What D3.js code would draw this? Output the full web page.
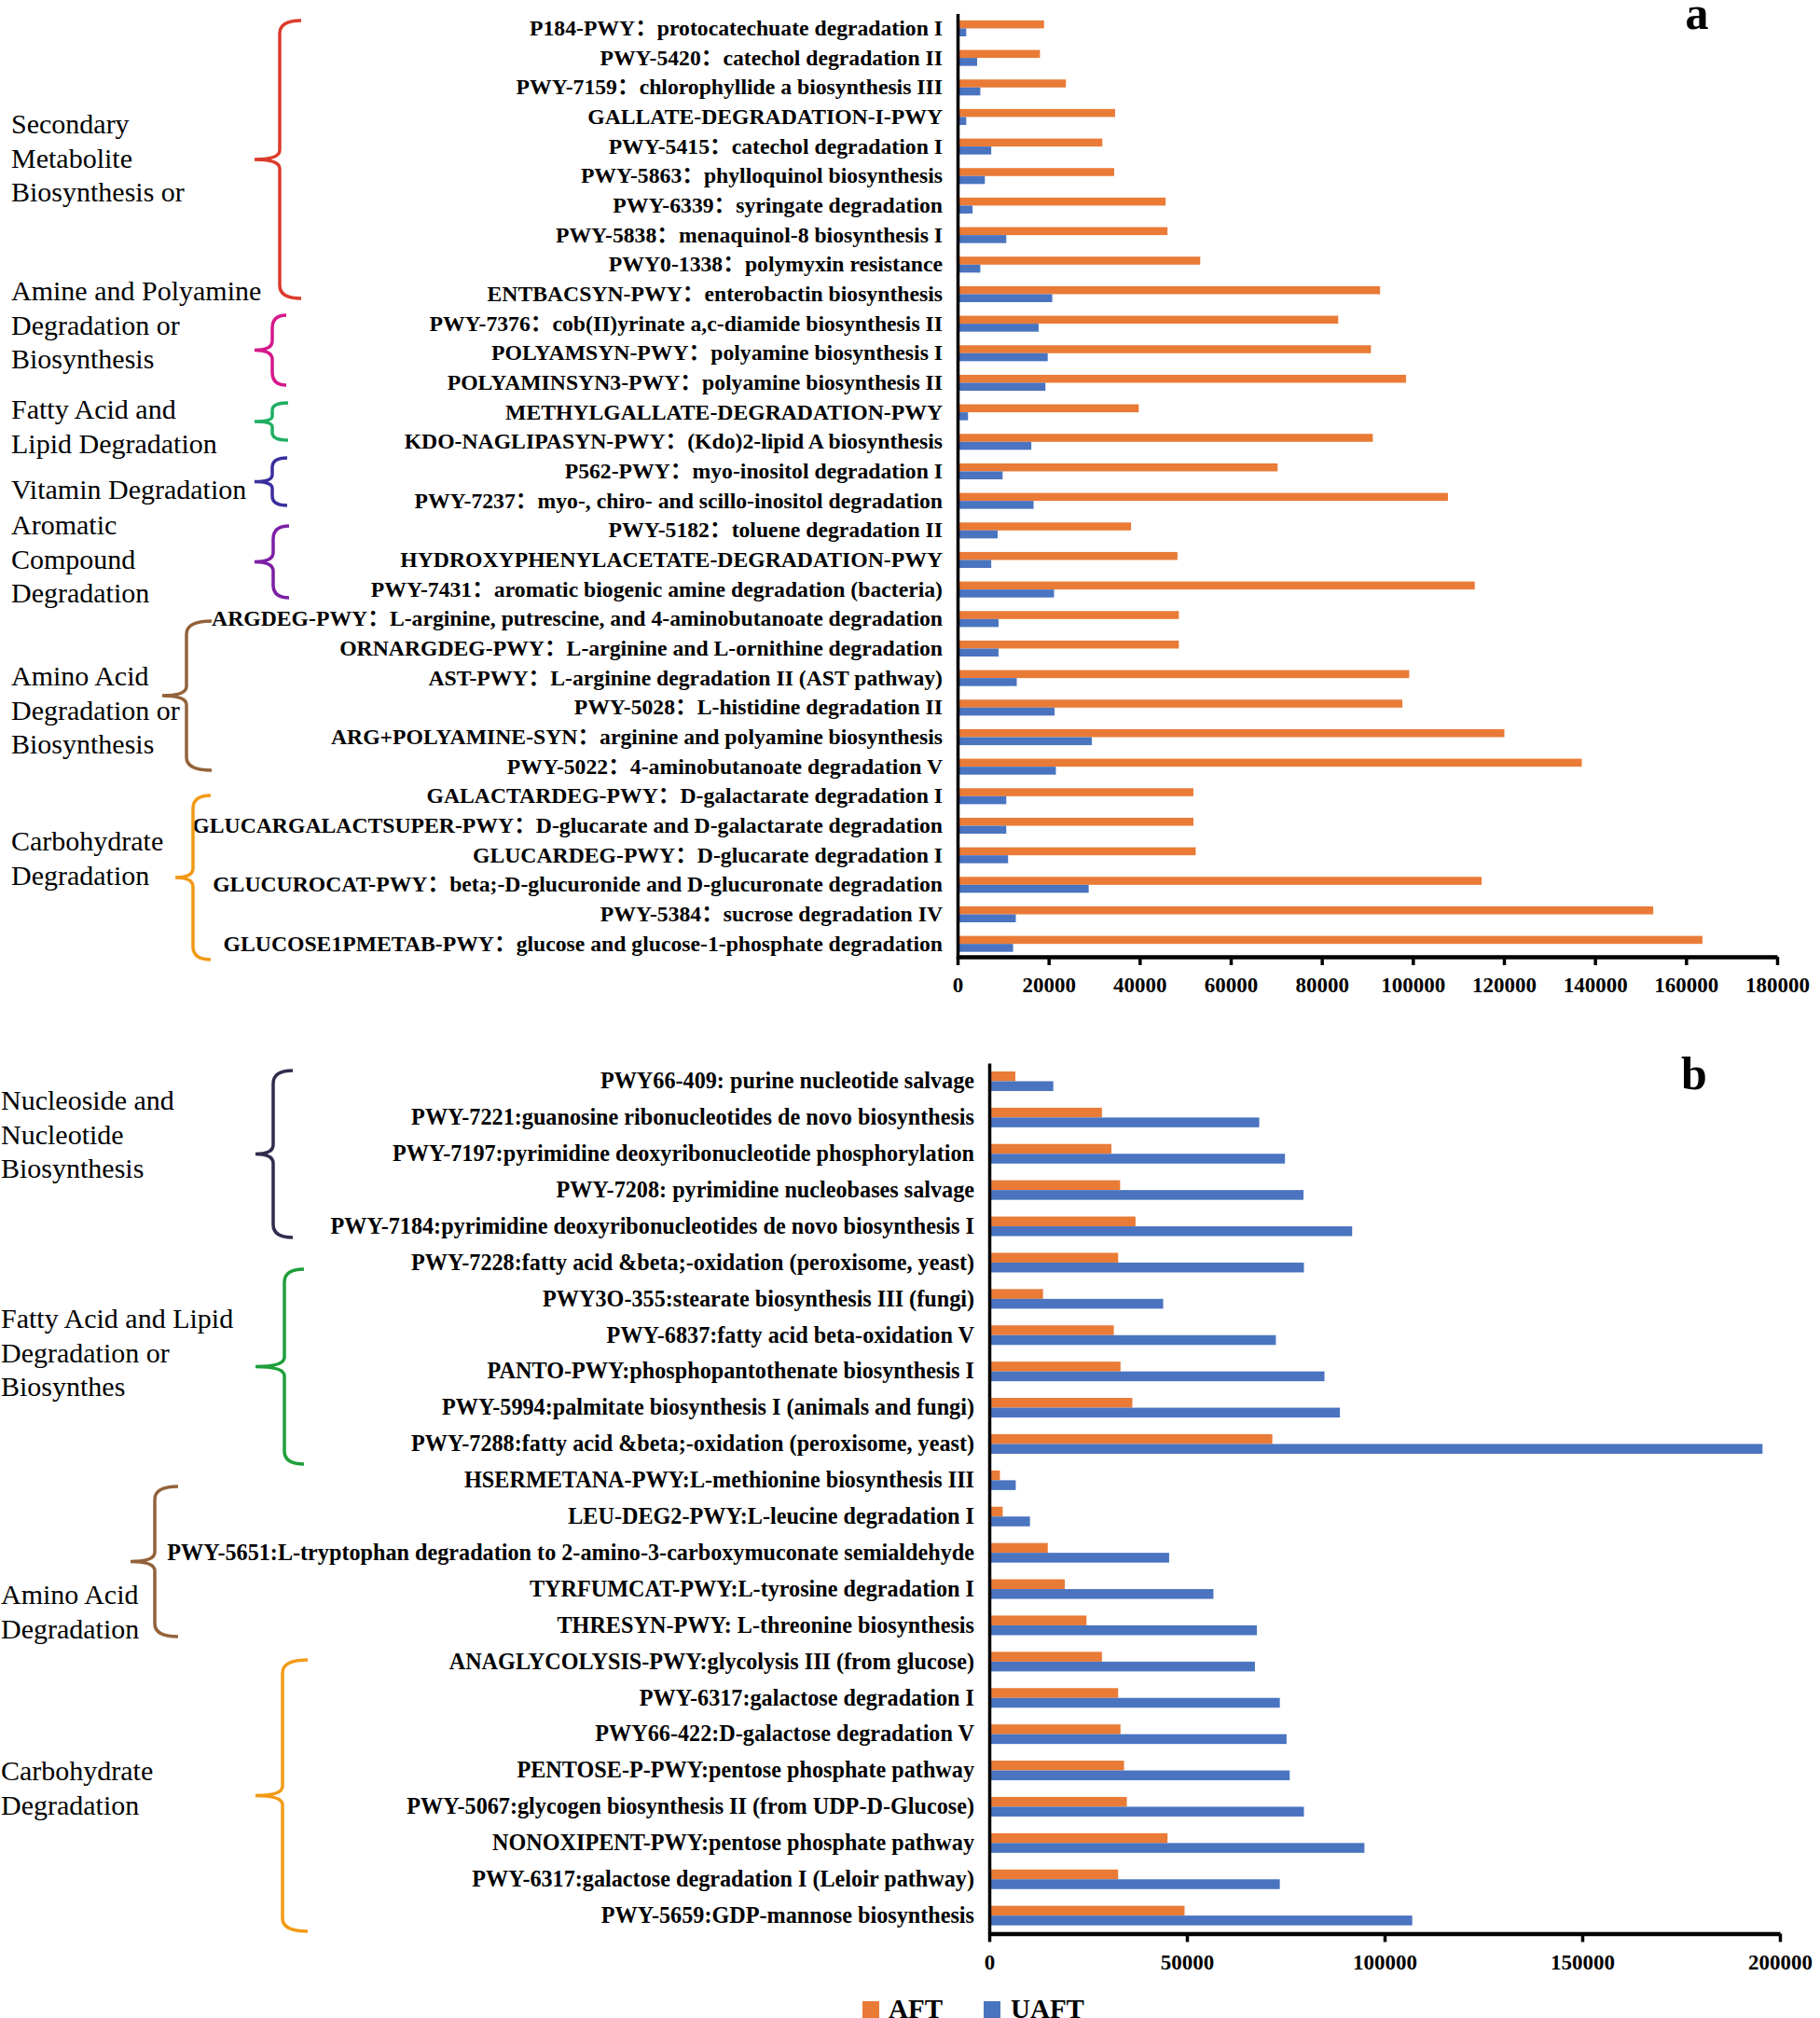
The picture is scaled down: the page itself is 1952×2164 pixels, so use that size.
<!DOCTYPE html>
<html>
<head>
<meta charset="utf-8">
<script src="https://cdn.jsdelivr.net/npm/d3@7"></script>
<style>
  html, body { margin: 0; padding: 0; background: #fff; }
  svg { display: block; }
  text { font-family: "Liberation Serif", "Times New Roman", "Noto Sans CJK SC", serif; fill: #000; }
</style>
</head>
<body>
<svg id="chart" width="1952" height="2164"></svg>
<script>
// ---------------- DATA ----------------
const seriesNames = ["AFT", "UAFT"];

const categoriesA = [
  "P184-PWY：protocatechuate degradation I",
  "PWY-5420：catechol degradation II",
  "PWY-7159：chlorophyllide a biosynthesis III",
  "GALLATE-DEGRADATION-I-PWY",
  "PWY-5415：catechol degradation I",
  "PWY-5863：phylloquinol biosynthesis",
  "PWY-6339：syringate degradation",
  "PWY-5838：menaquinol-8 biosynthesis I",
  "PWY0-1338：polymyxin resistance",
  "ENTBACSYN-PWY：enterobactin biosynthesis",
  "PWY-7376：cob(II)yrinate a,c-diamide biosynthesis II",
  "POLYAMSYN-PWY：polyamine biosynthesis I",
  "POLYAMINSYN3-PWY：polyamine biosynthesis II",
  "METHYLGALLATE-DEGRADATION-PWY",
  "KDO-NAGLIPASYN-PWY：(Kdo)2-lipid A biosynthesis",
  "P562-PWY：myo-inositol degradation I",
  "PWY-7237：myo-, chiro- and scillo-inositol degradation",
  "PWY-5182：toluene degradation II",
  "HYDROXYPHENYLACETATE-DEGRADATION-PWY",
  "PWY-7431：aromatic biogenic amine degradation (bacteria)",
  "ARGDEG-PWY：L-arginine, putrescine, and 4-aminobutanoate degradation",
  "ORNARGDEG-PWY：L-arginine and L-ornithine degradation",
  "AST-PWY：L-arginine degradation II (AST pathway)",
  "PWY-5028：L-histidine degradation II",
  "ARG+POLYAMINE-SYN：arginine and polyamine biosynthesis",
  "PWY-5022：4-aminobutanoate degradation V",
  "GALACTARDEG-PWY：D-galactarate degradation I",
  "GLUCARGALACTSUPER-PWY：D-glucarate and D-galactarate degradation",
  "GLUCARDEG-PWY：D-glucarate degradation I",
  "GLUCUROCAT-PWY：beta;-D-glucuronide and D-glucuronate degradation",
  "PWY-5384：sucrose degradation IV",
  "GLUCOSE1PMETAB-PWY：glucose and glucose-1-phosphate degradation"
];
const aftA = [19000, 18100, 23800, 34600, 31800, 34400, 45700, 46100, 53300, 92800,
  83600, 90800, 98500, 39800, 91200, 70300, 107700, 38100, 48300, 113600,
  48600, 48600, 99200, 97700, 120100, 137100, 51800, 51800, 52300, 115100,
  152800, 163600];
const uaftA = [1900, 4300, 5000, 1900, 7400, 6000, 3300, 10700, 5000, 20800,
  17800, 19800, 19300, 2300, 16200, 9900, 16700, 8800, 7400, 21200,
  9000, 9000, 13000, 21300, 29500, 21600, 10700, 10700, 11100, 28800,
  12800, 12200];
const ticksA = [0, 20000, 40000, 60000, 80000, 100000, 120000, 140000, 160000, 180000];

const categoriesB = [
  "PWY66-409: purine nucleotide salvage",
  "PWY-7221:guanosine ribonucleotides de novo biosynthesis",
  "PWY-7197:pyrimidine deoxyribonucleotide phosphorylation",
  "PWY-7208: pyrimidine nucleobases salvage",
  "PWY-7184:pyrimidine deoxyribonucleotides de novo biosynthesis I",
  "PWY-7228:fatty acid &beta;-oxidation (peroxisome, yeast)",
  "PWY3O-355:stearate biosynthesis III (fungi)",
  "PWY-6837:fatty acid beta-oxidation V",
  "PANTO-PWY:phosphopantothenate biosynthesis I",
  "PWY-5994:palmitate biosynthesis I (animals and fungi)",
  "PWY-7288:fatty acid &beta;-oxidation (peroxisome, yeast)",
  "HSERMETANA-PWY:L-methionine biosynthesis III",
  "LEU-DEG2-PWY:L-leucine degradation I",
  "PWY-5651:L-tryptophan degradation to 2-amino-3-carboxymuconate semialdehyde",
  "TYRFUMCAT-PWY:L-tyrosine degradation I",
  "THRESYN-PWY: L-threonine biosynthesis",
  "ANAGLYCOLYSIS-PWY:glycolysis III (from glucose)",
  "PWY-6317:galactose degradation I",
  "PWY66-422:D-galactose degradation V",
  "PENTOSE-P-PWY:pentose phosphate pathway",
  "PWY-5067:glycogen biosynthesis II (from UDP-D-Glucose)",
  "NONOXIPENT-PWY:pentose phosphate pathway",
  "PWY-6317:galactose degradation I (Leloir pathway)",
  "PWY-5659:GDP-mannose biosynthesis"
];
const aftB = [6600, 28500, 30900, 33100, 37000, 32600, 13600, 31500, 33200, 36200,
  71600, 2700, 3400, 14800, 19100, 24600, 28500, 32600, 33200, 34100,
  34800, 45100, 32600, 49400];
const uaftB = [16200, 68300, 74800, 79500, 91800, 79600, 44000, 72500, 84800, 88700,
  195600, 6700, 10300, 45500, 56700, 67700, 67200, 73500, 75200, 76000,
  79600, 94900, 73500, 107000];
const ticksB = [0, 50000, 100000, 150000, 200000];

// group annotations (text lines) for each panel
const groupTextA = [
  ["Secondary", "Metabolite", "Biosynthesis or"],
  ["Amine and Polyamine", "Degradation or", "Biosynthesis"],
  ["Fatty Acid and", "Lipid Degradation"],
  ["Vitamin Degradation"],
  ["Aromatic", "Compound", "Degradation"],
  ["Amino Acid", "Degradation or", "Biosynthesis"],
  ["Carbohydrate", "Degradation"]
];
const groupTextB = [
  ["Nucleoside and", "Nucleotide", "Biosynthesis"],
  ["Fatty Acid and Lipid", "Degradation or", "Biosynthes"],
  ["Amino Acid", "Degradation"],
  ["Carbohydrate", "Degradation"]
];

// ---------------- LAYOUT / STYLE ----------------
const colors = { AFT: "#E97B37", UAFT: "#4A74C0" };
const tickFont = 23;
const groupFont = 30;
const lineH = 36.6;

// group label first-baseline y and x
const groupLayoutA = [
  { x: 12, y: 143 }, { x: 12, y: 322 }, { x: 12, y: 449 }, { x: 12, y: 535 },
  { x: 12, y: 573 }, { x: 12, y: 735 }, { x: 12, y: 912 }
];
const groupLayoutB = [
  { x: 1, y: 1190 }, { x: 1, y: 1424 }, { x: 1, y: 1720 }, { x: 1, y: 1909 }
];
// braces: vertical x, tip x, hook x, top y, bottom y, colour
const bracesA = [
  { xv: 300, tip: 273, hook: 323, y0: 22, y1: 320, c: "#dc3b2b" },
  { xv: 292, tip: 273, hook: 307, y0: 338, y1: 413, c: "#d6188a" },
  { xv: 292, tip: 273, hook: 309, y0: 432, y1: 472, c: "#1fae62" },
  { xv: 292, tip: 273, hook: 308, y0: 491, y1: 542, c: "#3a2f9e" },
  { xv: 293, tip: 273, hook: 310, y0: 564, y1: 641, c: "#7d1fa6" },
  { xv: 200, tip: 174, hook: 227, y0: 666, y1: 826, c: "#93623a" },
  { xv: 207, tip: 188, hook: 226, y0: 853, y1: 1029, c: "#f29a16" }
];
const bracesB = [
  { xv: 293, tip: 274, hook: 314, y0: 1148, y1: 1327, c: "#2f2c4e" },
  { xv: 305, tip: 274, hook: 326, y0: 1361, y1: 1570, c: "#1f9f3a" },
  { xv: 166, tip: 140, hook: 191, y0: 1594, y1: 1755, c: "#93623a" },
  { xv: 303, tip: 274, hook: 330, y0: 1780, y1: 2071, c: "#f29a16" }
];

const svg = d3.select("#chart");

function drawPanel(cfg) {
  const x = d3.scaleLinear().domain(cfg.domain).range([cfg.x0, cfg.x1]);
  const y = d3.scaleBand().domain(cfg.cats).range([cfg.yTop, cfg.yBot])
    .paddingInner(0.46).paddingOuter(0.23);
  const sub = d3.scaleBand().domain(seriesNames).range([0, y.bandwidth()]);

  const g = svg.append("g");
  const rows = cfg.cats.map((c, i) => ({ cat: c, AFT: cfg.aft[i], UAFT: cfg.uaft[i] }));

  const rowG = g.selectAll("g.row").data(rows).join("g")
    .attr("class", "row")
    .attr("transform", d => `translate(0,${y(d.cat)})`);
  rowG.selectAll("rect").data(d => seriesNames.map(s => ({ s, v: d[s] }))).join("rect")
    .attr("x", x(0))
    .attr("y", d => sub(d.s))
    .attr("width", d => x(d.v) - x(0))
    .attr("height", sub.bandwidth())
    .attr("fill", d => colors[d.s]);

  // y axis (category labels)
  const ya = g.append("g").attr("transform", `translate(${x(0)},0)`)
    .call(d3.axisLeft(y).tickSize(0).tickPadding(16));
  ya.select(".domain").attr("stroke", "#000").attr("stroke-width", 3.5);
  ya.selectAll("text").attr("font-size", cfg.labelFont).attr("font-weight", "bold")
    .attr("font-family", '"Liberation Serif", "Times New Roman", "Noto Sans CJK SC", serif');

  // x axis
  const xa = g.append("g").attr("transform", `translate(0,${cfg.axisY})`)
    .call(d3.axisBottom(x).tickValues(cfg.ticks).tickSize(9).tickSizeOuter(0)
      .tickPadding(13).tickFormat(d3.format("d")));
  xa.select(".domain").attr("stroke", "#000").attr("stroke-width", 4.5);
  xa.selectAll(".tick line").attr("stroke", "#000").attr("stroke-width", 3.5);
  xa.selectAll("text").attr("font-size", tickFont).attr("font-weight", "bold")
    .attr("font-family", '"Liberation Serif", "Times New Roman", serif');

  // panel letter
  g.append("text").attr("x", cfg.letterX).attr("y", cfg.letterY)
    .attr("text-anchor", "middle").attr("font-size", 50).attr("font-weight", "bold")
    .text(cfg.letter);

  // group texts
  cfg.groupText.forEach((lines, i) => {
    const L = cfg.groupLayout[i];
    const t = g.append("text").attr("font-size", groupFont);
    lines.forEach((ln, j) => {
      t.append("tspan").attr("x", L.x).attr("y", L.y + j * lineH).text(ln);
    });
  });

  // braces
  cfg.braces.forEach(b => {
    const ym = (b.y0 + b.y1) / 2;
    const r = Math.min(14, (b.y1 - b.y0) / 5);
    const r2 = Math.min(10, (b.y1 - b.y0) / 7);
    const p = d3.path();
    p.moveTo(b.hook, b.y0);
    p.quadraticCurveTo(b.xv, b.y0, b.xv, b.y0 + r);
    p.lineTo(b.xv, ym - r2);
    p.quadraticCurveTo(b.xv, ym, b.tip, ym);
    p.quadraticCurveTo(b.xv, ym, b.xv, ym + r2);
    p.lineTo(b.xv, b.y1 - r);
    p.quadraticCurveTo(b.xv, b.y1, b.hook, b.y1);
    g.append("path").attr("d", p.toString()).attr("fill", "none")
      .attr("stroke", b.c).attr("stroke-width", 3.5).attr("stroke-linecap", "butt");
  });
}

drawPanel({
  cats: categoriesA, aft: aftA, uaft: uaftA, ticks: ticksA, labelFont: 23.7,
  domain: [0, 180000], x0: 1027, x1: 1906, yTop: 14.6, yBot: 1028, axisY: 1026,
  letter: "a", letterX: 1820, letterY: 31,
  groupText: groupTextA, groupLayout: groupLayoutA, braces: bracesA
});
drawPanel({
  cats: categoriesB, aft: aftB, uaft: uaftB, ticks: ticksB, labelFont: 24.2,
  domain: [0, 200000], x0: 1061, x1: 1909, yTop: 1140, yBot: 2073.6, axisY: 2073.5,
  letter: "b", letterX: 1817, letterY: 1168,
  groupText: groupTextB, groupLayout: groupLayoutB, braces: bracesB
});

// legend
const legendItems = [
  { s: "AFT", rx: 925, tx: 953 },
  { s: "UAFT", rx: 1055, tx: 1084 }
];
const lg = svg.append("g");
lg.selectAll("rect").data(legendItems).join("rect")
  .attr("x", d => d.rx).attr("y", 2146).attr("width", 18).attr("height", 18)
  .attr("fill", d => colors[d.s]);
lg.selectAll("text").data(legendItems).join("text")
  .attr("x", d => d.tx).attr("y", 2164)
  .attr("font-size", 29).attr("font-weight", "bold")
  .text(d => d.s);
</script>
</body>
</html>
